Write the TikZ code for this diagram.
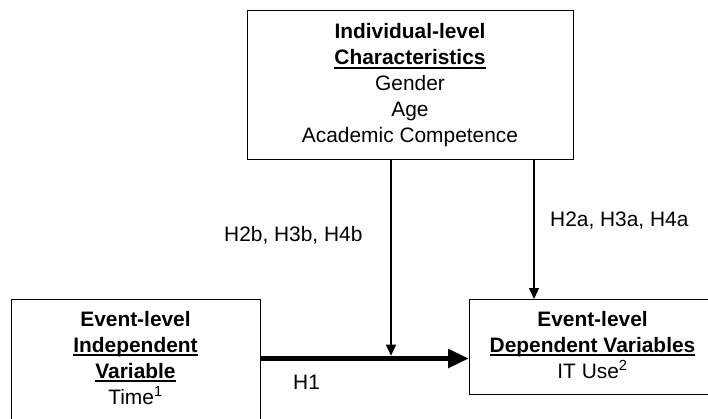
\documentclass[tikz,border=0pt]{standalone}
\usepackage{fontspec}
\setmainfont{Liberation Sans}
\usetikzlibrary{arrows.meta}
\newcommand\myul[1]{\setbox0\hbox{#1}\rlap{\rule[-3.6pt]{\wd0}{1.4pt}}\box0}
\begin{document}
\begin{tikzpicture}[x=1pt,y=1pt,
  box/.style={draw, line width=1.3pt, inner sep=0pt, anchor=north west},
  txt/.style={inner sep=0pt, anchor=base, font=\fontsize{20.9}{26}\selectfont},
  lbl/.style={inner sep=0pt, anchor=base west, font=\fontsize{20.9}{26}\selectfont},
  thinarrow/.style={line width=1.1pt, -{Triangle[length=11pt,width=10pt]}},
  thickarrow/.style={line width=5.5pt, -{Triangle[length=21pt,width=18pt]}}]
\useasboundingbox (0,0) rectangle (708,-419);
\clip (0,0) rectangle (708,-419);
% boxes
\node[box, minimum width=326pt, minimum height=149pt] (ind) at (247,-10) {};
\node[box, minimum width=249pt, minimum height=160pt] (iv) at (11,-299) {};
\node[box, minimum width=260pt, minimum height=95pt] (dv) at (469,-299) {};
% texts
\node[txt] (indt) at (410,-39) {\begin{tabular}[t]{@{}c@{}}\textbf{Individual-level}\\ \textbf{\myul{Characteristics}}\\ Gender\\ Age\\ Academic Competence\end{tabular}};
\node[txt] (ivt) at (135.5,-326) {\begin{tabular}[t]{@{}c@{}}\textbf{Event-level}\\ \textbf{\myul{Independent}}\\ \textbf{\myul{Variable}}\\ Time\textsuperscript{1}\end{tabular}};
\node[txt] (dvt) at (592.5,-326) {\begin{tabular}[t]{@{}c@{}}\textbf{Event-level}\\ \textbf{\myul{Dependent Variables}}\\ IT Use\textsuperscript{2}\end{tabular}};
% connectors
\coordinate (j) at (391,-358.5);
\coordinate (r) at (534,-299);
\draw[thickarrow] (iv.east |- j) -- (dv.west |- j);
\draw[thinarrow] (ind.south -| j) -- ([yshift=2.8pt]j);
\draw[thinarrow] (ind.south -| r) -- (r);
% labels
\node[lbl] (h2b) at (224,-242) {H2b, H3b, H4b};
\node[lbl] (h2a) at (550,-227) {H2a, H3a, H4a};
\node[lbl] (h1) at (293,-389) {H1};
\end{tikzpicture}
\end{document}
